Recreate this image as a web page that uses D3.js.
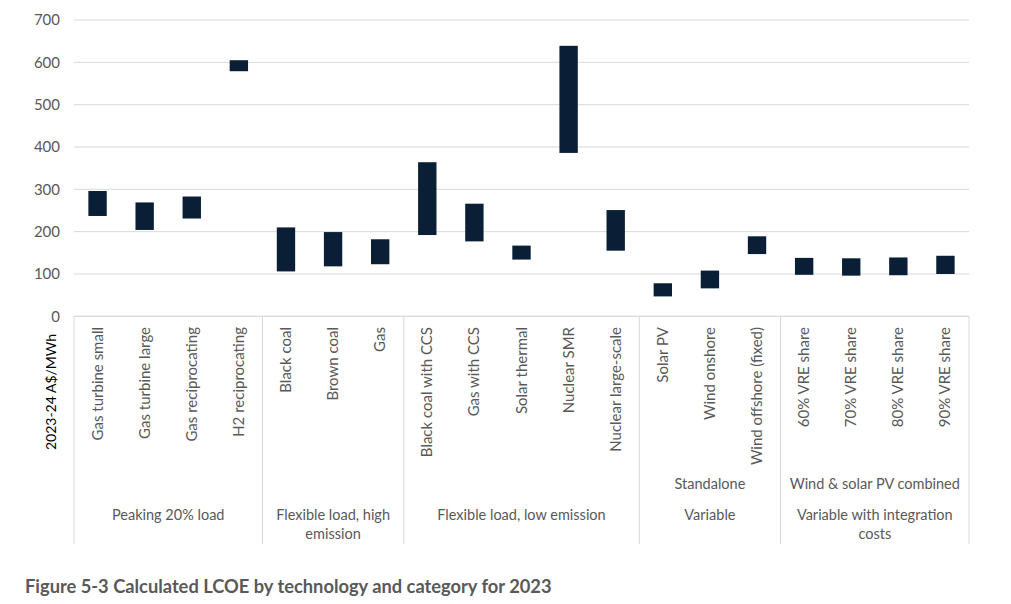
<!DOCTYPE html>
<html>
<head>
<meta charset="utf-8">
<script src="https://cdn.jsdelivr.net/npm/d3@7"></script>
<style>
    body { margin: 0; background: #fff; }
    text { font-family: Lato, "Open Sans", sans-serif; }
</style>
</head>
<body>
<svg id="chart" width="1011" height="604"></svg>
<script>
// LCOE ranges (2023-24 A$/MWh)
const technologies = [
    'Gas turbine small', 'Gas turbine large', 'Gas reciprocating', 'H2 reciprocating',
    'Black coal', 'Brown coal', 'Gas',
    'Black coal with CCS', 'Gas with CCS', 'Solar thermal', 'Nuclear SMR', 'Nuclear large-scale',
    'Solar PV', 'Wind onshore', 'Wind offshore (fixed)',
    '60% VRE share', '70% VRE share', '80% VRE share', '90% VRE share'
];
const lowValues  = [237, 204, 231, 579, 106, 118, 123, 192, 177, 134, 386, 155, 47, 66, 147, 98, 96, 97, 100];
const highValues = [296, 269, 283, 605, 210, 199, 182, 364, 266, 167, 639, 251, 78, 108, 189, 138, 137, 139, 143];

const groupSizes = [4, 3, 5, 3, 4];
const groupLabels = [
    ['Peaking 20% load'],
    ['Flexible load, high', 'emission'],
    ['Flexible load, low emission'],
    ['Variable'],
    ['Variable with integration', 'costs']
];
const subGroupLabels = ['', '', '', 'Standalone', 'Wind & solar PV combined'];
const yTicks = [0, 100, 200, 300, 400, 500, 600, 700];

const svg = d3.select('#chart');
const plotLeft = 74, plotRight = 969, plotTop = 20, plotBottom = 316.3, axisBottom = 544;
const labelColor = '#595959';

const x = d3.scaleBand()
    .domain(technologies)
    .range([plotLeft, plotRight])
    .paddingInner(0.61)
    .paddingOuter(0.305);

const y = d3.scaleLinear()
    .domain([0, 700])
    .range([plotBottom, plotTop]);

// gridlines
svg.append('g')
    .selectAll('line')
    .data(yTicks)
    .enter()
    .append('line')
    .attr('x1', plotLeft)
    .attr('x2', plotRight)
    .attr('y1', d => y(d))
    .attr('y2', d => y(d))
    .attr('stroke', '#d9d9d9')
    .attr('stroke-width', 1);

// y tick labels
svg.append('g')
    .selectAll('text')
    .data(yTicks)
    .enter()
    .append('text')
    .attr('x', 60)
    .attr('y', d => y(d))
    .attr('dy', '0.35em')
    .attr('text-anchor', 'end')
    .style('font-size', '15px')
    .style('fill', labelColor)
    .text(d => d);

// y axis title
svg.append('text')
    .attr('transform', 'translate(56,392) rotate(-90)')
    .attr('text-anchor', 'middle')
    .style('font-size', '14px')
    .style('fill', '#000')
    .text('2023-24 A$/MWh');

// floating bars
svg.append('g')
    .selectAll('rect')
    .data(technologies)
    .enter()
    .append('rect')
    .attr('x', d => x(d))
    .attr('width', x.bandwidth())
    .attr('y', (d, i) => y(highValues[i]))
    .attr('height', (d, i) => y(lowValues[i]) - y(highValues[i]))
    .attr('fill', '#0a1f35');

// category axis: separators
const step = x.step();
let boundaries = [plotLeft];
let acc = 0;
groupSizes.forEach(n => {
    acc += n;
    boundaries.push(plotLeft + acc * step);
});

const axisG = svg.append('g');
axisG.append('line')
    .attr('x1', plotLeft).attr('x2', plotRight)
    .attr('y1', plotBottom).attr('y2', plotBottom)
    .attr('stroke', '#d9d9d9');

axisG.selectAll('line.sep')
    .data(boundaries)
    .enter()
    .append('line')
    .attr('class', 'sep')
    .attr('x1', d => d).attr('x2', d => d)
    .attr('y1', plotBottom).attr('y2', axisBottom)
    .attr('stroke', '#d9d9d9');

// category labels (rotated)
axisG.selectAll('text.cat')
    .data(technologies)
    .enter()
    .append('text')
    .attr('class', 'cat')
    .attr('transform', d => `translate(${x(d) + x.bandwidth() / 2 + 5},327) rotate(-90)`)
    .attr('text-anchor', 'end')
    .style('font-size', '15px')
    .style('fill', labelColor)
    .text(d => d);

// group labels
groupLabels.forEach((lines, i) => {
    const cx = (boundaries[i] + boundaries[i + 1]) / 2;
    lines.forEach((line, j) => {
        axisG.append('text')
            .attr('x', cx)
            .attr('y', 520 + j * 19)
            .attr('text-anchor', 'middle')
            .style('font-size', '14.5px')
            .style('fill', labelColor)
            .text(line);
    });
    if (subGroupLabels[i]) {
        axisG.append('text')
            .attr('x', cx)
            .attr('y', 489)
            .attr('text-anchor', 'middle')
            .style('font-size', '14.5px')
            .style('fill', labelColor)
            .text(subGroupLabels[i]);
    }
});

// caption
svg.append('text')
    .attr('x', 25)
    .attr('y', 593)
    .style('font-size', '18.3px')
    .style('font-weight', 'bold')
    .style('fill', '#595959')
    .text('Figure 5-3 Calculated LCOE by technology and category for 2023');
</script>
</body>
</html>
